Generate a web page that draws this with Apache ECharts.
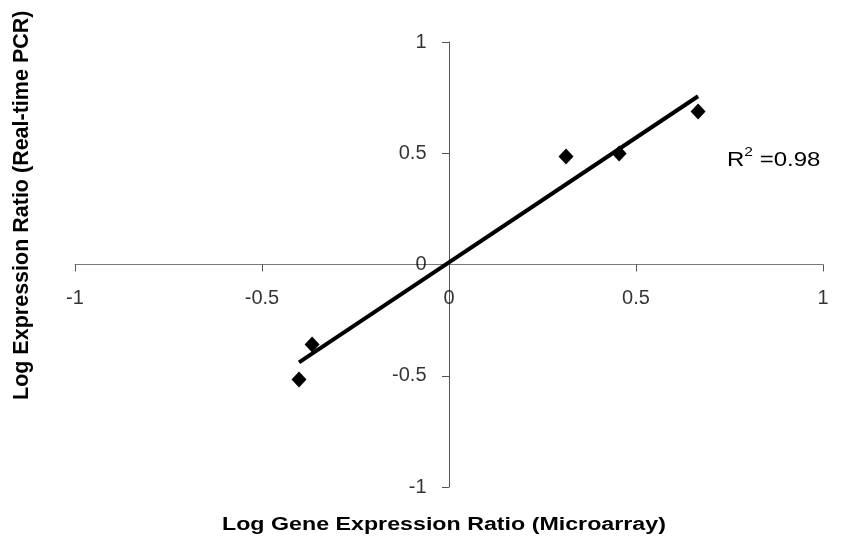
<!DOCTYPE html>
<html>
<head>
<meta charset="utf-8">
<script src="https://cdn.jsdelivr.net/npm/echarts@6/dist/echarts.min.js"></script>
<style>
  html, body { margin: 0; padding: 0; background: #fff; }
  #chart { width: 861px; height: 545px; }
</style>
</head>
<body>
<div id="chart"></div>
<script>
// Log expression ratios: microarray (x) vs real-time PCR (y)
const microarray = [-0.401, -0.366, 0.313, 0.455, 0.666];
const realTimePCR = [-0.517, -0.360, 0.485, 0.499, 0.688];
const tickValues = [-1, -0.5, 0, 0.5, 1];
const rSquared = '0.98';

// least-squares trend line across the measured range
function fitLine(xs, ys) {
  const n = xs.length;
  const mx = xs.reduce((a, b) => a + b, 0) / n;
  const my = ys.reduce((a, b) => a + b, 0) / n;
  let sxy = 0, sxx = 0;
  for (let i = 0; i < n; i++) {
    sxy += (xs[i] - mx) * (ys[i] - my);
    sxx += (xs[i] - mx) * (xs[i] - mx);
  }
  const slope = sxy / sxx;
  return { slope, intercept: my - slope * mx };
}
const fit = fitLine(microarray, realTimePCR);
const xMin = Math.min(...microarray), xMax = Math.max(...microarray);
const trend = [
  [xMin, fit.intercept + fit.slope * xMin],
  [xMax, fit.intercept + fit.slope * xMax]
];

const font = '"Liberation Sans", Arial, sans-serif';
const chart = echarts.init(document.getElementById('chart'));

// tick labels sit beside the axes, which cross at the origin
const labelSeries = (data, position, distance, pick) => ({
  type: 'scatter',
  data,
  symbol: 'circle',
  symbolSize: 1,
  silent: true,
  itemStyle: { color: 'rgba(0,0,0,0)' },
  label: {
    show: true, position, distance,
    color: '#000', fontFamily: font, fontSize: 20,
    formatter: p => String(p.value[pick])
  },
  z: 5
});

chart.setOption({
  animation: false,
  backgroundColor: '#fff',
  grid: { left: 75, right: 38, top: 42, bottom: 58 },
  xAxis: {
    type: 'value', min: -1, max: 1, interval: 0.5,
    axisLine: { onZero: true, lineStyle: { color: '#7a7a7a', width: 1 } },
    axisTick: { show: true, length: 7, lineStyle: { color: '#555' } },
    axisLabel: { show: false },
    splitLine: { show: false }
  },
  yAxis: {
    type: 'value', min: -1, max: 1, interval: 0.5,
    axisLine: { onZero: true, lineStyle: { color: '#555', width: 1 } },
    axisTick: { show: true, length: 7, lineStyle: { color: '#555' } },
    axisLabel: { show: false },
    splitLine: { show: false }
  },
  series: [
    {
      type: 'line',
      data: trend,
      symbol: 'none',
      lineStyle: { color: '#000', width: 4 },
      z: 3
    },
    {
      type: 'scatter',
      data: microarray.map((x, i) => [x, realTimePCR[i]]),
      symbol: 'diamond',
      symbolSize: [15, 16],
      itemStyle: { color: '#000', opacity: 1 },
      z: 4
    },
    labelSeries(tickValues.map(v => [v, 0]), 'bottom', 23, 0),
    labelSeries(tickValues.map(v => [0, v]), 'left', 22, 1)
  ],
  graphic: [
    {
      type: 'text', x: 727, y: 146, scaleX: 1.2,
      style: {
        text: '{r|R}{s|2}{r| =' + rSquared + '}',
        fontFamily: font, fill: '#000',
        rich: {
          r: { fontFamily: font, fontSize: 20, lineHeight: 24, verticalAlign: 'bottom' },
          s: { fontFamily: font, fontSize: 13, lineHeight: 24, verticalAlign: 'top' }
        }
      }
    },
    {
      type: 'text', x: 222, y: 516, scaleX: 1.29,
      style: { text: 'Log Gene Expression Ratio (Microarray)', fontFamily: font, fontSize: 18, fontWeight: 'bold', fill: '#000' }
    },
    {
      type: 'text', x: 11, y: 400, rotation: Math.PI / 2,
      style: { text: 'Log Expression Ratio (Real-time PCR)', fontFamily: font, fontSize: 21.5, fontWeight: 'bold', fill: '#000', verticalAlign: 'top' }
    }
  ]
});
</script>
</body>
</html>
